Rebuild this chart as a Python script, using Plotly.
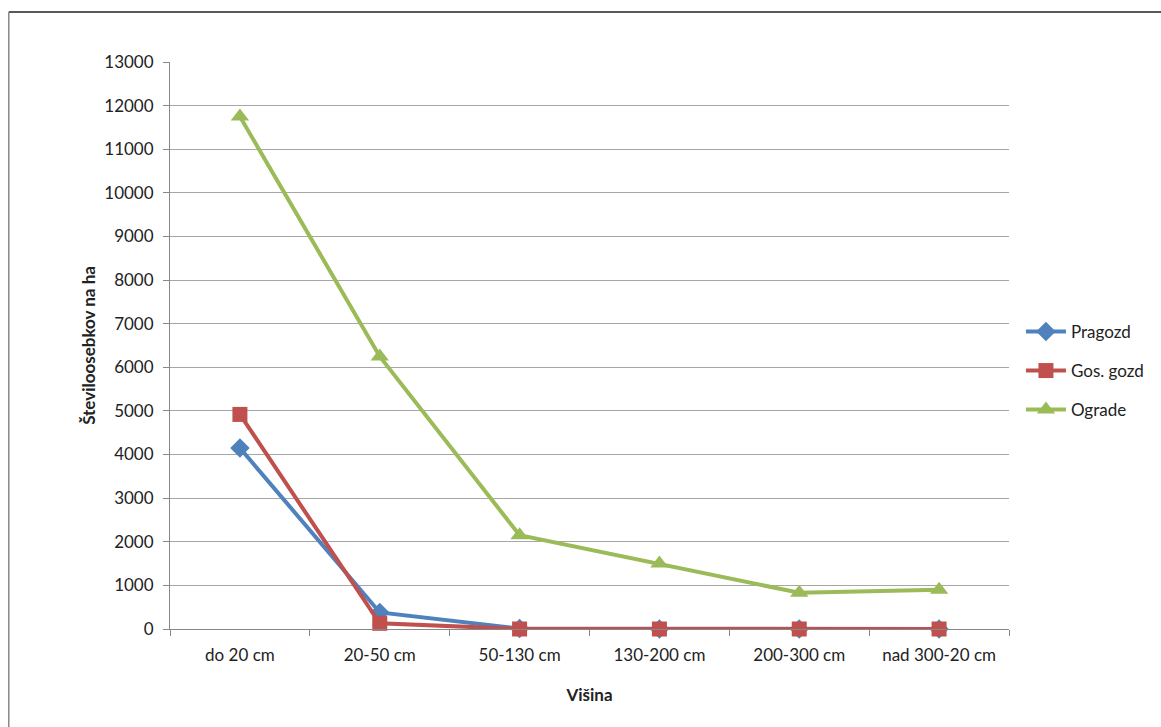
import plotly.graph_objects as go

# Height classes (x categories)
visina = ["do 20 cm", "20-50 cm", "50-130 cm", "130-200 cm", "200-300 cm", "nad 300-20 cm"]

# Number of individuals per hectare for each stand type
pragozd = [4150, 380, 10, 0, 0, 0]
gos_gozd = [4920, 130, 0, 0, 0, 0]
ograde = [11750, 6250, 2150, 1500, 830, 900]

y_ticks = list(range(0, 13001, 1000))
y_ticktext = [str(v) for v in y_ticks]

W, H = 1161, 727
L, R, T, B = 170, 1013, 62, 629  # plot area in pixels

FONT = "Lato, 'Open Sans', sans-serif"


def px_x(p):
    return (p - L) / (R - L)


def px_y(p):
    return (B - p) / (B - T)


fig = go.Figure()

series = [
    ("Pragozd", pragozd, "#4F81BD", "diamond", 15, "legend", 332),
    ("Gos. gozd", gos_gozd, "#C0504D", "square", 15, "legend2", 371),
    ("Ograde", ograde, "#9BBB59", "triangle-up", 16, "legend3", 410),
]
legends = {}
for name, vals, col, sym, sz, leg, ly in series:
    fig.add_trace(go.Scatter(
        x=visina, y=vals, name=name, mode="lines+markers",
        line=dict(color=col, width=4),
        marker=dict(symbol=sym, size=sz, color=col),
        cliponaxis=False,
        legend=leg,
    ))
    legends[leg] = dict(
        x=px_x(1025), y=px_y(ly), xanchor="left", yanchor="middle",
        font=dict(size=17, color="#222222"), itemwidth=40,
        bgcolor="rgba(0,0,0,0)",
    )

# Outer chart frame (top and left edges)
fig.add_shape(type="line", xref="paper", yref="paper",
              x0=px_x(8), x1=px_x(1170), y0=px_y(12), y1=px_y(12),
              line=dict(color="#222222", width=1.5))
fig.add_shape(type="line", xref="paper", yref="paper",
              x0=px_x(8), x1=px_x(8), y0=px_y(12), y1=px_y(740),
              line=dict(color="#888888", width=1.5))

fig.update_layout(
    width=W, height=H,
    margin=dict(l=L, r=W - R, t=T, b=H - B),
    paper_bgcolor="white", plot_bgcolor="white",
    font=dict(family=FONT, size=17, color="#222222"),
    showlegend=True,
    **legends,
    xaxis=dict(
        type="category", tickson="boundaries", ticks="outside", ticklen=6,
        tickcolor="#878787", showline=True, linecolor="#878787", linewidth=1,
        showgrid=False, range=[-0.5, 5.5],
        tickfont=dict(size=17), ticklabelstandoff=11,
        title=dict(text="<b>Višina</b>", font=dict(size=17), standoff=24),
    ),
    yaxis=dict(
        range=[0, 13000], tickvals=y_ticks, ticktext=y_ticktext,
        ticks="outside", ticklen=6,
        tickcolor="#878787", showline=True, linecolor="#878787", linewidth=1,
        showgrid=True, gridcolor="#A6A6A6", gridwidth=1, zeroline=False,
        tickfont=dict(size=17), ticklabelstandoff=6,
        title=dict(text="<b>Številoosebkov na ha</b>", font=dict(size=17), standoff=4),
    ),
)

fig.write_html("out.html")
